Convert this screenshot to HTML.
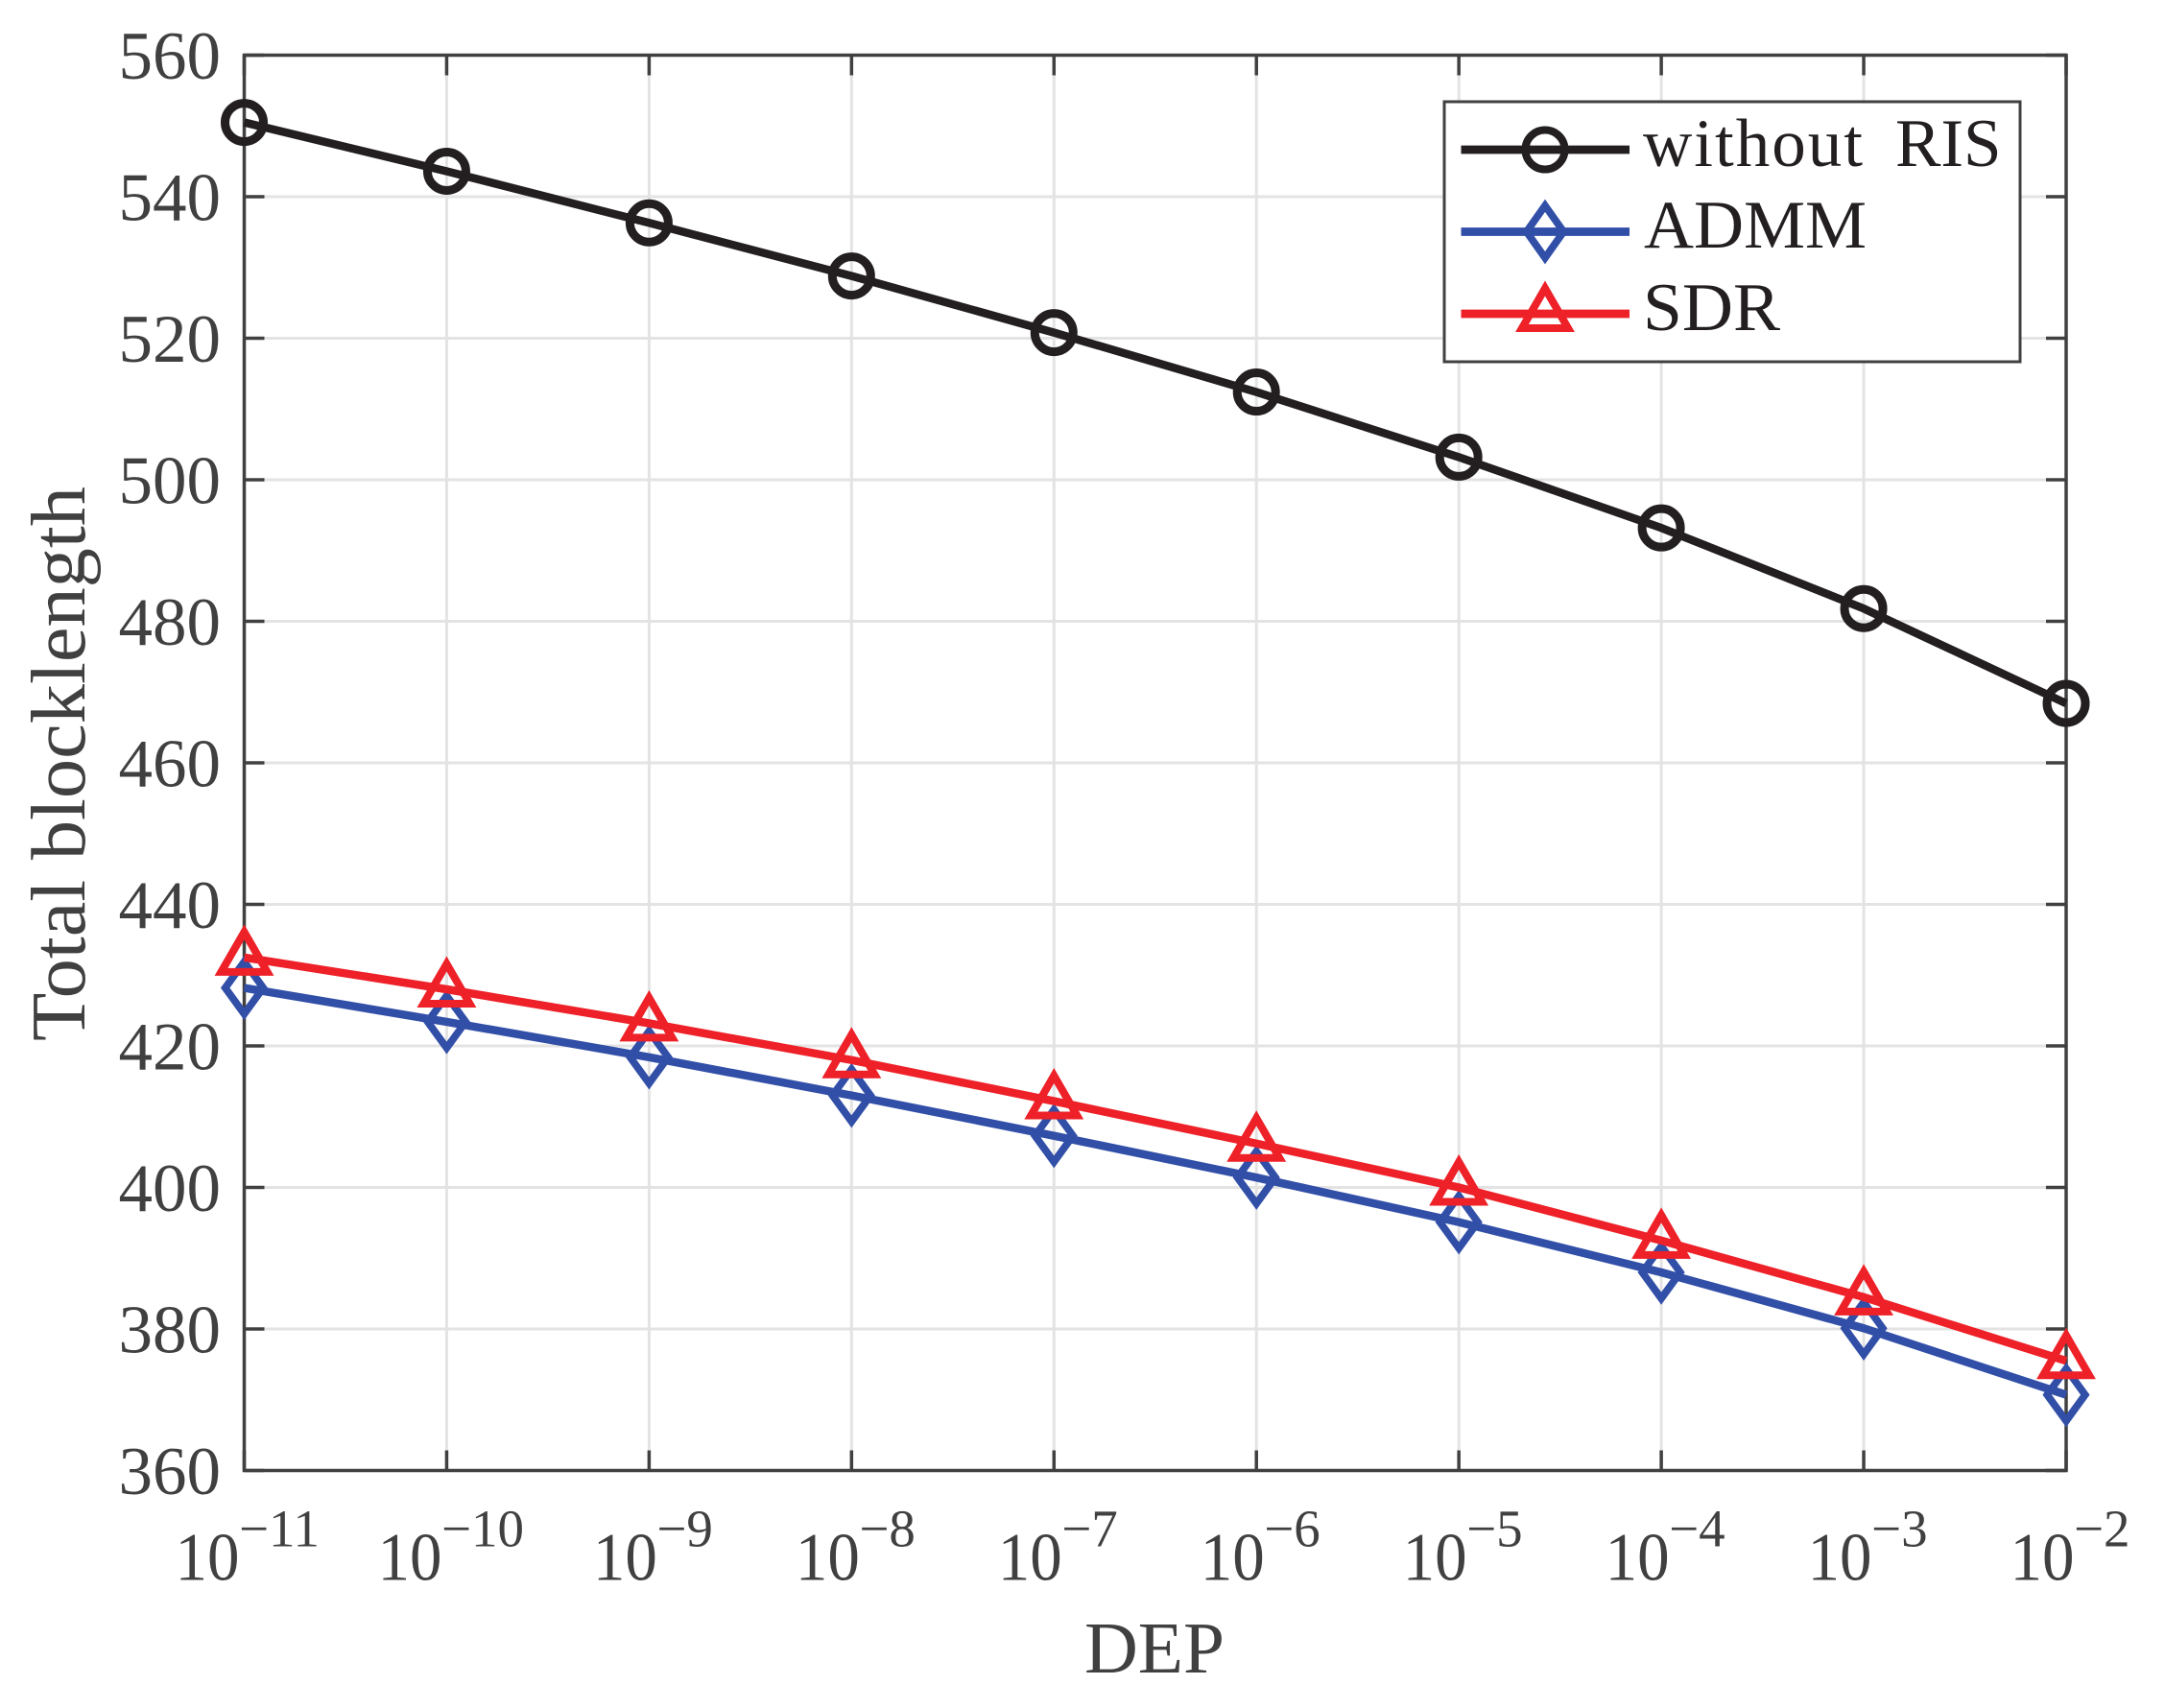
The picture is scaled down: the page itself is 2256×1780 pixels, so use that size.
<!DOCTYPE html>
<html lang="en">
<head>
<meta charset="utf-8">
<title>Total blocklength vs DEP</title>
<style>
  html, body { margin: 0; padding: 0; background: #fff; }
  svg { display: block; }
  text { font-family: "Liberation Serif", serif; }
</style>
</head>
<body>
<svg id="chart" xmlns="http://www.w3.org/2000/svg" width="2256" height="1780" viewBox="0 0 2256 1780">
  <rect x="0" y="0" width="2256" height="1780" fill="#ffffff"/>
  <g id="grid"></g>
  <g id="axes"></g>
  <g id="series"></g>
  <text transform="translate(88,1085) rotate(-90)" font-size="80" fill="#404040" textLength="578" lengthAdjust="spacingAndGlyphs">Total blocklength</text>
  <text x="1130" y="1743" font-size="76" fill="#404040" textLength="146" lengthAdjust="spacingAndGlyphs">DEP</text>
  <g id="legend">
    <rect x="1505" y="106" width="600" height="271" fill="#ffffff" stroke="#404040" stroke-width="3"/>
    <g>
      <line x1="1522.500" x2="1698" y1="156" y2="156" stroke="#231f20" stroke-width="8.7"/>
      <circle cx="1610" cy="156" r="20.5" fill="none" stroke="#231f20" stroke-width="8"/>
      <text x="1712" y="173" font-size="71" fill="#231f20"><tspan letter-spacing="2">without</tspan> <tspan x="1975">RIS</tspan></text>
    </g>
    <g>
      <line x1="1522.500" x2="1698" y1="241.5" y2="241.5" stroke="#324fa8" stroke-width="8.7"/>
      <path d="M1610 214.300L1629.300 241.500L1610 268.700L1590.700 241.500Z" fill="none" stroke="#324fa8" stroke-width="7.7" stroke-linejoin="miter" stroke-miterlimit="10"/>
      <text x="1713" y="258" font-size="71" fill="#231f20" textLength="232" lengthAdjust="spacingAndGlyphs">ADMM</text>
    </g>
    <g>
      <line x1="1522.500" x2="1698" y1="327" y2="327" stroke="#ee2028" stroke-width="8.7"/>
      <path d="M1610 300.500L1634 342L1586 342Z" fill="none" stroke="#ee2028" stroke-width="8" stroke-linejoin="miter" stroke-miterlimit="10"/>
      <text x="1712" y="344" font-size="71" fill="#231f20" textLength="143" lengthAdjust="spacingAndGlyphs">SDR</text>
    </g>
  </g>
</svg>
<script>
const depExponents = [-11, -10, -9, -8, -7, -6, -5, -4, -3, -2];
const withoutRis = [550.5, 543.6, 536.3, 528.8, 520.8, 512.4, 503.2, 493.2, 481.8, 468.4];
const admm = [428.2, 423.4, 418.4, 413, 407.3, 401.4, 395.1, 388, 380.1, 370.7];
const sdr = [432.5, 428, 423.2, 418, 412.2, 406.2, 400, 392.5, 384.5, 375.5];
const yTicks = [360, 380, 400, 420, 440, 460, 480, 500, 520, 540, 560];

const NS = 'http://www.w3.org/2000/svg';
const plotLeft = 254.5, plotRight = 2153, plotTop = 57.5, plotBottom = 1532.5;
const AXIS_COLOR = '#404040';

function xScale(e) {
  const lo = depExponents[0], hi = depExponents[depExponents.length - 1];
  return plotLeft + (e - lo) / (hi - lo) * (plotRight - plotLeft);
}
function yScale(v) {
  const lo = yTicks[0], hi = yTicks[yTicks.length - 1];
  return plotBottom - (v - lo) / (hi - lo) * (plotBottom - plotTop);
}
function make(tag, attrs, parent) {
  const el = document.createElementNS(NS, tag);
  Object.keys(attrs).forEach(function (k) { el.setAttribute(k, attrs[k]); });
  parent.appendChild(el);
  return el;
}

const gridG = document.getElementById('grid');
const axesG = document.getElementById('axes');
const seriesG = document.getElementById('series');

// Grid
depExponents.slice(1, -1).forEach(function (e) {
  const gl = make('line', { x1: xScale(e), x2: xScale(e), y1: plotTop, y2: plotBottom, stroke: '#e3e3e3', 'stroke-width': 3 }, gridG);
  
  
});
yTicks.slice(1, -1).forEach(function (v) {
  const gl = make('line', { x1: plotLeft, x2: plotRight, y1: yScale(v), y2: yScale(v), stroke: '#e3e3e3', 'stroke-width': 3 }, gridG);
  
  
});

// Frame
const frame = make('rect', { x: plotLeft, y: plotTop, width: plotRight - plotLeft, height: plotBottom - plotTop, fill: 'none', stroke: AXIS_COLOR, 'stroke-width': 3.5 }, axesG);



// Y ticks and labels
yTicks.forEach(function (v) {
  const y = yScale(v);
  const t1 = make('line', { x1: plotLeft, x2: plotLeft + 21, y1: y, y2: y, stroke: AXIS_COLOR, 'stroke-width': 3.5 }, axesG);
  
  
  const t2 = make('line', { x1: plotRight - 21, x2: plotRight, y1: y, y2: y, stroke: AXIS_COLOR, 'stroke-width': 3.5 }, axesG);
  
  
  const lab = make('text', { x: 123.5, y: y + 24.3, 'font-size': 71, fill: AXIS_COLOR }, axesG);
  
  
  lab.textContent = String(v);
});

// X ticks and labels
depExponents.forEach(function (e) {
  const x = xScale(e);
  const t1 = make('line', { x1: x, x2: x, y1: plotBottom, y2: plotBottom - 21, stroke: AXIS_COLOR, 'stroke-width': 3.5 }, axesG);
  
  
  const t2 = make('line', { x1: x, x2: x, y1: plotTop, y2: plotTop + 21, stroke: AXIS_COLOR, 'stroke-width': 3.5 }, axesG);
  
  
  const expText = '\u2212' + Math.abs(e);
  const twoDigit = Math.abs(e) >= 10;
  const start = x - (twoDigit ? 76.5 : 63);
  const base = make('text', { x: start + 4.5, y: 1646.7, 'font-size': 71, fill: AXIS_COLOR, textLength: 67, lengthAdjust: 'spacingAndGlyphs' }, axesG);
  
  
  base.textContent = '10';
  const sup = make('text', { x: start + 71, y: 1611.5, 'font-size': 55, fill: AXIS_COLOR }, axesG);
  
  
  sup.textContent = expText;
});

// Series
function polyPoints(values) {
  return values.map(function (v, i) { return xScale(depExponents[i]) + ',' + yScale(v); }).join(' ');
}

function drawSeries(values, color, kind) {
  const g = make('g', {}, seriesG);
  
  
  values.forEach(function (v, i) {
    const cx = xScale(depExponents[i]), cy = yScale(v);
    let m;
    if (kind === 'without-ris') {
      m = make('circle', { cx: cx, cy: cy, r: 20, fill: 'none', stroke: color, 'stroke-width': 9 }, g);
    } else if (kind === 'admm') {
      m = make('path', { d: 'M' + cx + ' ' + (cy - 27.2) + 'L' + (cx + 19.8) + ' ' + cy + 'L' + cx + ' ' + (cy + 27.2) + 'L' + (cx - 19.8) + ' ' + cy + 'Z', fill: 'none', stroke: color, 'stroke-width': 7.7, 'stroke-miterlimit': 10 }, g);
    } else {
      m = make('path', { d: 'M' + cx + ' ' + (cy - 26.5) + 'L' + (cx + 24) + ' ' + (cy + 15) + 'L' + (cx - 24) + ' ' + (cy + 15) + 'Z', fill: 'none', stroke: color, 'stroke-width': 8, 'stroke-miterlimit': 10 }, g);
    }
    
    
  });
  const line = make('polyline', { points: polyPoints(values), fill: 'none', stroke: color, 'stroke-width': 8.5, 'stroke-linejoin': 'round' }, g);
  
  
}

drawSeries(withoutRis, '#231f20', 'without-ris');
drawSeries(admm, '#324fa8', 'admm');
drawSeries(sdr, '#ee2028', 'sdr');
</script>
</body>
</html>
